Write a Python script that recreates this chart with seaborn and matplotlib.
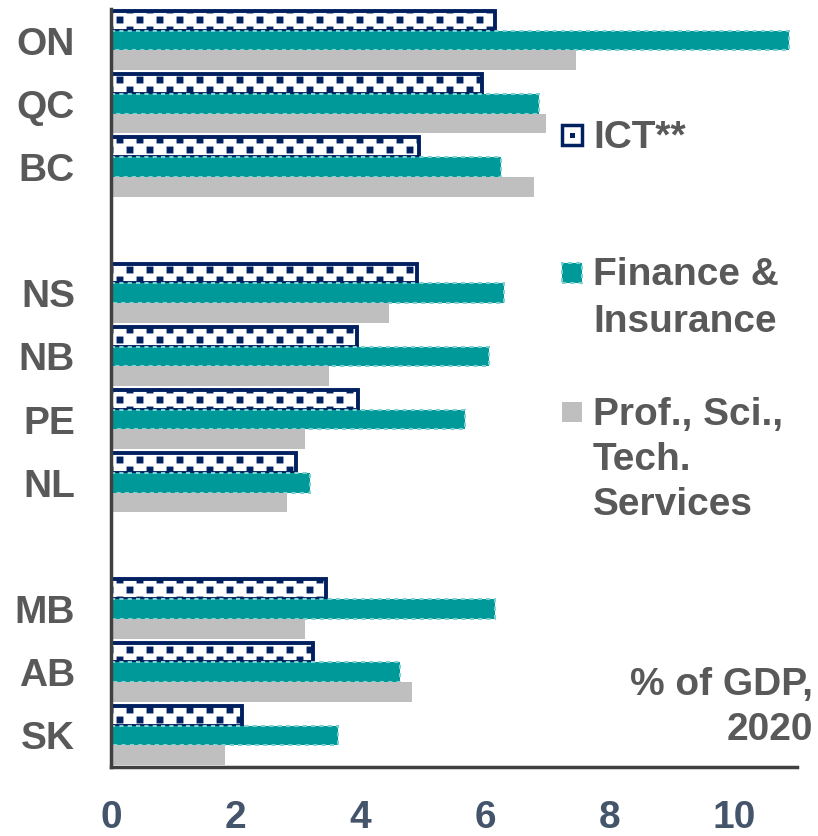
import numpy as np
import pandas as pd
import matplotlib
matplotlib.use("Agg")
import matplotlib.pyplot as plt
import matplotlib.path as mpath
import matplotlib.hatch as mhatch
from matplotlib.patches import Rectangle
import seaborn as sns

# ---------------- data ----------------
provinces = ["ON", "QC", "BC", "NS", "NB", "PE", "NL", "MB", "AB", "SK"]
order = ["ON", "QC", "BC", " ", "NS", "NB", "PE", "NL", "  ", "MB", "AB", "SK"]
sectors = ["ICT**", "Finance & Insurance", "Prof., Sci., Tech. Services"]
ict = [6.15, 5.95, 4.94, 4.90, 3.94, 3.96, 2.96, 3.44, 3.24, 2.10]
finance = [10.87, 6.87, 6.25, 6.30, 6.06, 5.67, 3.19, 6.15, 4.63, 3.64]
prof = [7.45, 6.97, 6.78, 4.45, 3.49, 3.11, 2.82, 3.11, 4.82, 1.83]
xticks = [0, 2, 4, 6, 8, 10]

# ---------------- custom checker-square hatch (replaces '*') ----------------
class CheckerSquares(mhatch.HatchPatternBase):
    ncols = 5
    nrows = 10
    size = 0.055

    def __init__(self, hatch, density):
        self.on = hatch.count('*') > 0
        if self.on:
            pts = []
            for r in range(self.nrows + 1):
                y = r / self.nrows
                shift = 0.0 if r % 2 == 0 else 0.5 / self.ncols
                for c in range(-1, self.ncols + 1):
                    x = c / self.ncols + shift
                    pts.append((x, y))
            self.pts = pts
            self.num_vertices = len(pts) * 5
        else:
            self.num_vertices = 0

    def set_vertices_and_codes(self, vertices, codes):
        s = self.size / 2
        sq = np.array([[-s, -s], [s, -s], [s, s], [-s, s], [-s, -s]])
        sc = [mpath.Path.MOVETO, mpath.Path.LINETO, mpath.Path.LINETO,
              mpath.Path.LINETO, mpath.Path.CLOSEPOLY]
        i = 0
        for (x, y) in self.pts:
            vertices[i:i + 5] = sq + np.array([x, y])
            codes[i:i + 5] = sc
            i += 5

mhatch._hatch_types = [h for h in mhatch._hatch_types if h is not mhatch.Stars]
mhatch._hatch_types.append(CheckerSquares)

# ---------------- frame ----------------
df = pd.DataFrame({
    "prov": provinces * 3,
    "sector": np.repeat(sectors, len(provinces)),
    "value": ict + finance + prof,
})

sns.set_style("white")
plt.rcParams["font.family"] = ["Liberation Sans", "DejaVu Sans"]
plt.rcParams["hatch.linewidth"] = 1.0

NAVY = "#002060"
TEAL = "#009999"
GRAY = "#BFBFBF"
TXT = "#595959"
NUM = "#44546A"
FS = 28

fig = plt.figure(figsize=(8.18, 8.36), dpi=100)
ax = fig.add_axes([111 / 818, 1 - 767 / 836, (797 - 111) / 818, (767 - 9) / 836])

sns.barplot(data=df, y="prov", x="value", hue="sector", order=order,
            hue_order=sectors, palette=["white", TEAL, GRAY], orient="h",
            width=0.94, ax=ax, legend=False, saturation=1)

for bar_container, sec in zip(ax.containers, sectors):
    for p in bar_container:
        if sec == sectors[0]:
            p.set_edgecolor(NAVY)
            p.set_linewidth(2.8)
            p.set_hatch("*")
        elif sec == sectors[1]:
            p.set_edgecolor("#7FD0D0")
            p.set_linestyle((0, (2, 2)))
            p.set_linewidth(1.5)
        else:
            p.set_edgecolor(GRAY)
            p.set_linewidth(0)

ax.set_xlim(0, 11)
ax.set_ylim(11.5, -0.5)
ax.set_xlabel("")
ax.set_ylabel("")

ax.set_xticks(xticks)
ax.set_xticklabels([str(t) for t in xticks], fontsize=FS, fontweight="bold", color=NUM)
ax.tick_params(axis="x", direction="in", length=10, width=2, color="#404040", pad=24)

ax.set_yticks(range(len(order)))
ax.set_yticklabels(order, fontsize=FS, fontweight="bold", color=TXT)
ax.tick_params(axis="y", which="major", length=0, pad=26)
ax.set_yticks(np.arange(-0.5, 11.0, 1.0), minor=True)
ax.tick_params(axis="y", which="minor", direction="in", length=10, width=2, color="#404040")

for side in ["top", "right"]:
    ax.spines[side].set_visible(False)
for side in ["left", "bottom"]:
    ax.spines[side].set_color("#404040")
    ax.spines[side].set_linewidth(2.5)

# ---------------- legend (manual) ----------------
def fx(px):
    return px / 818

def fy(py):
    return 1 - py / 836

fig.patches.append(Rectangle((fx(562), fy(145)), 20 / 818, 20 / 836, transform=fig.transFigure,
                             facecolor="white", edgecolor=NAVY, linewidth=2.5, figure=fig))
fig.patches.append(Rectangle((fx(569.5), fy(137.5)), 5 / 818, 5 / 836, transform=fig.transFigure,
                             facecolor=NAVY, edgecolor=NAVY, linewidth=0, figure=fig))
fig.patches.append(Rectangle((fx(562), fy(283)), 20 / 818, 20 / 836, transform=fig.transFigure,
                             facecolor=TEAL, edgecolor="#7FD0D0", linewidth=1.5,
                             linestyle=(0, (2, 2)), figure=fig))
fig.patches.append(Rectangle((fx(562), fy(422)), 20 / 818, 20 / 836, transform=fig.transFigure,
                             facecolor=GRAY, edgecolor=GRAY, linewidth=0, figure=fig))

legend_lines = [("ICT**", 148), ("Finance &", 285), ("Insurance", 332),
                ("Prof., Sci.,", 425), ("Tech.", 470), ("Services", 515)]
for txt, base in legend_lines:
    fig.text(fx(593), fy(base), txt, fontsize=FS, fontweight="bold", color=TXT,
             ha="left", va="baseline")

fig.text(fx(813), fy(695), "% of GDP,", fontsize=FS, fontweight="bold", color=TXT,
         ha="right", va="baseline")
fig.text(fx(813), fy(740), "2020", fontsize=FS, fontweight="bold", color=TXT,
         ha="right", va="baseline")

fig.savefig("out.png", dpi=100)
